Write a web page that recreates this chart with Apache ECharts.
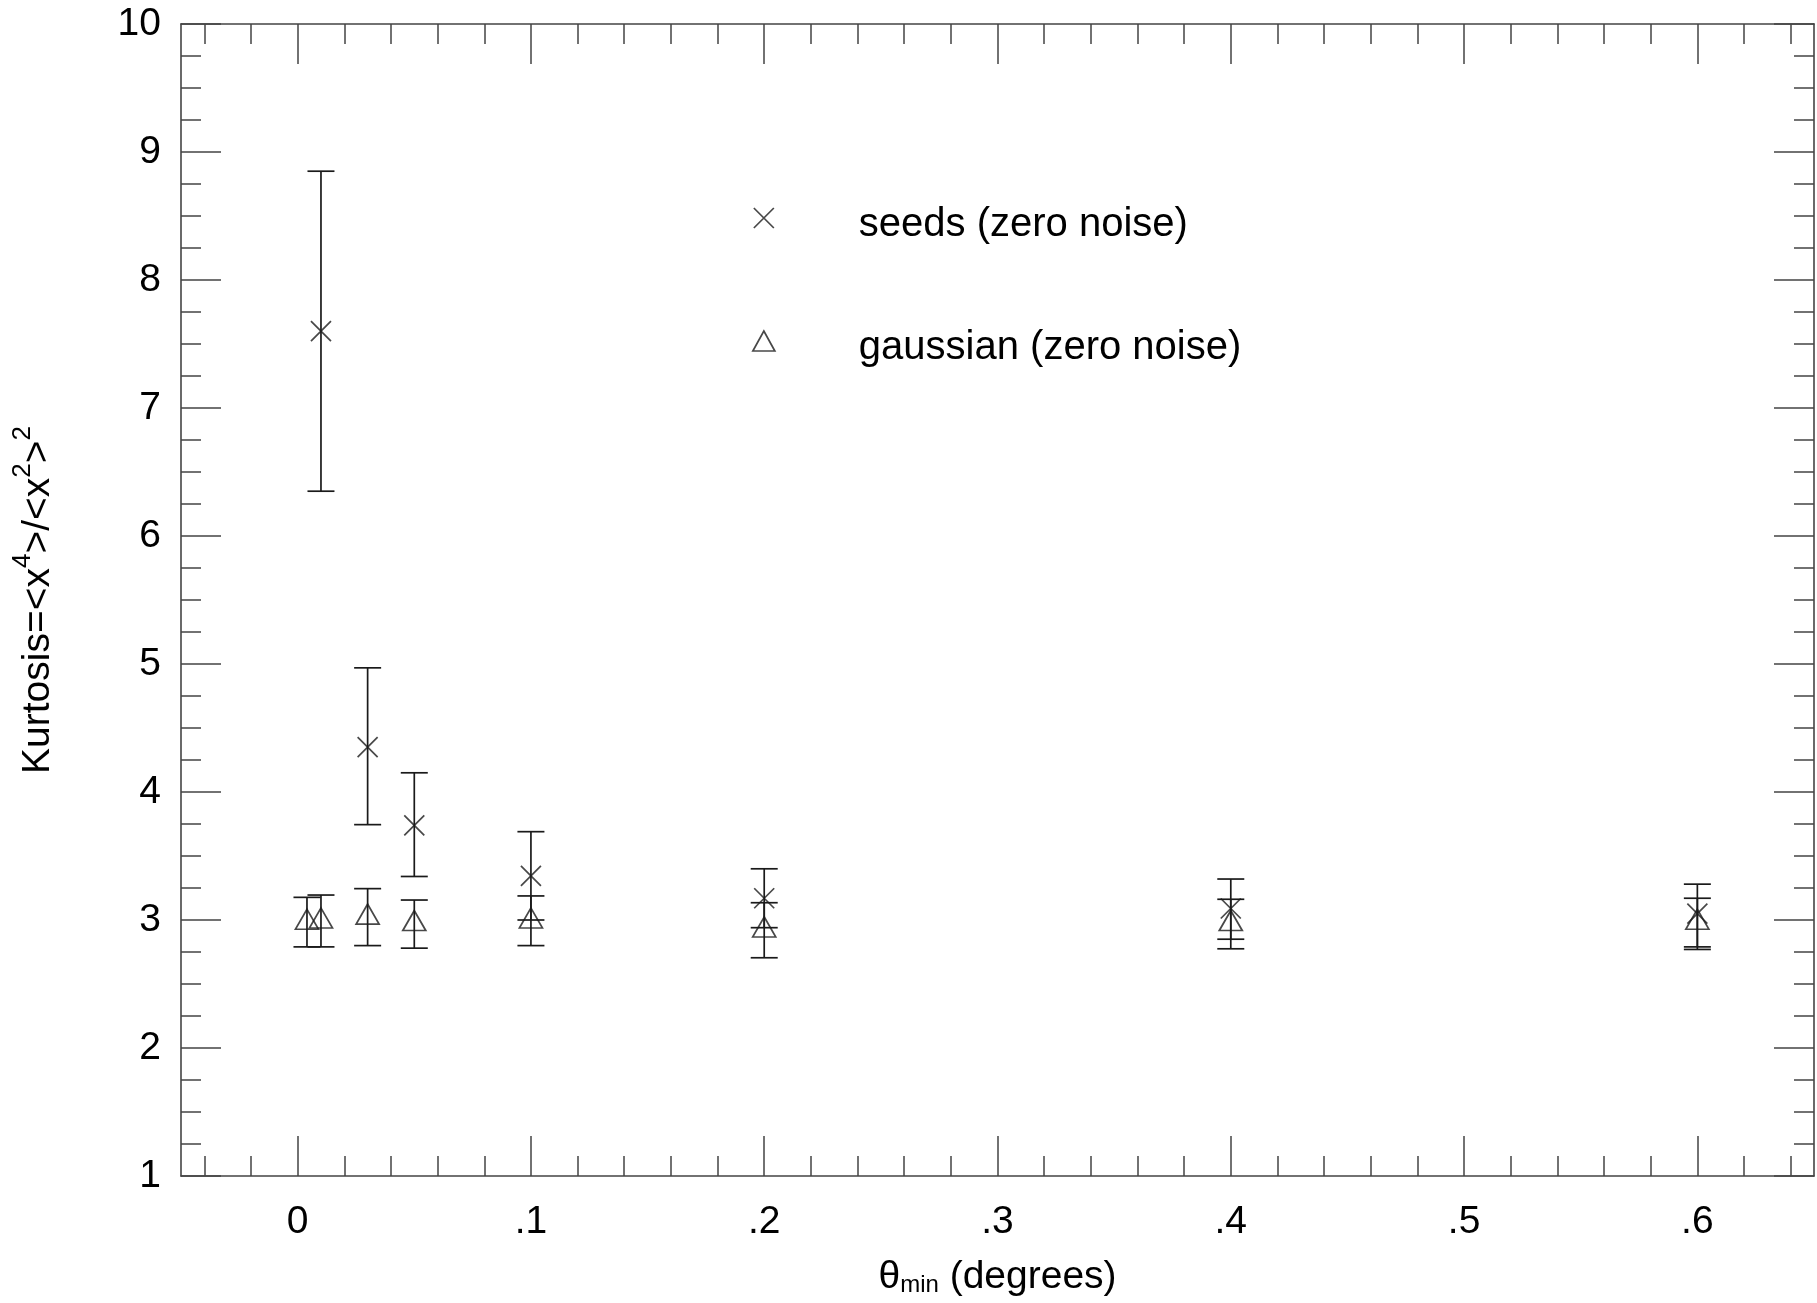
<!DOCTYPE html>
<html>
<head>
<meta charset="utf-8">
<script src="https://cdn.jsdelivr.net/npm/echarts@6/dist/echarts.min.js"></script>
<style>
  html, body { margin: 0; padding: 0; background: #fff; }
  #chart { width: 1817px; height: 1303px; }
</style>
</head>
<body>
<div id="chart"></div>
<script>
// seeds (zero noise): theta_min, kurtosis and the error bar ends
const seedsTheta = [0.01, 0.03, 0.05, 0.1, 0.2, 0.4, 0.6]
const seedsKurt = [7.6, 4.35, 3.74, 3.345, 3.17, 3.09, 3.05]
const seedsLow = [6.35, 3.745, 3.34, 3.0, 2.94, 2.85, 2.77]
const seedsHigh = [8.85, 4.97, 4.15, 3.69, 3.40, 3.32, 3.28]

// gaussian (zero noise)
const gaussTheta = [0.004, 0.01, 0.03, 0.05, 0.1, 0.2, 0.4, 0.6]
const gaussKurt = [2.98, 2.99, 3.02, 2.97, 2.99, 2.92, 2.97, 2.98]
const gaussLow = [2.79, 2.79, 2.80, 2.78, 2.80, 2.705, 2.775, 2.79]
const gaussHigh = [3.177, 3.195, 3.245, 3.156, 3.188, 3.135, 3.162, 3.17]

// x axis ticks
const xMajorTicks = [0, 0.1, 0.2, 0.3, 0.4, 0.5, 0.6]
const xTickLabels = ['0', '.1', '.2', '.3', '.4', '.5', '.6']
const xMinorTicks = [-0.04, -0.02, 0.02, 0.04, 0.06, 0.08, 0.12, 0.14, 0.16, 0.18,
  0.22, 0.24, 0.26, 0.28, 0.32, 0.34, 0.36, 0.38, 0.42, 0.44, 0.46, 0.48,
  0.52, 0.54, 0.56, 0.58, 0.62, 0.64]

const FONT = "'Liberation Sans', Arial, Helvetica, sans-serif"
const axisColor = '#444'
const markColor = '#1a1a1a'
const crossPath = 'path://M0,0L10,10M10,0L0,10'

const chart = echarts.init(document.getElementById('chart'))

const xAxisOf = (position, ticks, len, extra) => Object.assign({
  type: 'value',
  position: position,
  min: -0.05,
  max: 0.65,
  axisLine: { show: false, onZero: false },
  axisTick: {
    show: true,
    inside: true,
    length: len,
    customValues: ticks,
    lineStyle: { color: axisColor, width: 1.5 }
  },
  axisLabel: { show: false },
  splitLine: { show: false }
}, extra)

const frameLine = { show: true, onZero: false, lineStyle: { color: axisColor, width: 1.6 } }

const yAxisOf = (position, extra) => Object.assign({
  type: 'value',
  position: position,
  min: 1,
  max: 10,
  interval: 1,
  axisLine: frameLine,
  axisTick: { show: true, inside: true, length: 40, lineStyle: { color: axisColor, width: 1.5 } },
  minorTick: { show: true, splitNumber: 4, length: 20, lineStyle: { color: axisColor, width: 1.5 } },
  axisLabel: { show: false },
  splitLine: { show: false },
  minorSplitLine: { show: false }
}, extra)

// vertical bar with caps for each point
const renderErrorBar = (params, api) => {
  const x = api.value(0)
  const top = api.coord([x, api.value(2)])
  const bot = api.coord([x, api.value(1)])
  const hw = 13.5
  const style = { stroke: markColor, lineWidth: 1.7 }
  return {
    type: 'group',
    children: [
      { type: 'line', shape: { x1: top[0], y1: top[1], x2: bot[0], y2: bot[1] }, style },
      { type: 'line', shape: { x1: top[0] - hw, y1: top[1], x2: top[0] + hw, y2: top[1] }, style },
      { type: 'line', shape: { x1: bot[0] - hw, y1: bot[1], x2: bot[0] + hw, y2: bot[1] }, style }
    ]
  }
}

const option = {
  animation: false,
  backgroundColor: '#fff',
  textStyle: { fontFamily: FONT, color: '#000' },
  grid: { left: 181, right: 3, top: 24, bottom: 127, containLabel: false, outerBoundsMode: 'none' },
  legend: {
    orient: 'vertical',
    left: 747,
    top: 186,
    itemWidth: 22,
    itemHeight: 20,
    itemGap: 69,
    selectedMode: false,
    data: ['seeds (zero noise)', 'gaussian (zero noise)'],
    itemStyle: { color: 'transparent', borderColor: markColor, borderWidth: 1.7 },
    formatter: '{t|{name}}',
    textStyle: {
      rich: {
        t: { fontFamily: FONT, fontSize: 40, lineHeight: 40, color: '#000', padding: [14, 0, 0, 79] }
      }
    }
  },
  xAxis: [
    xAxisOf('bottom', xMajorTicks, 40, {
      axisLine: frameLine,
      axisLabel: {
        show: true,
        customValues: xMajorTicks,
        margin: 27,
        fontSize: 39,
        color: '#000',
        fontFamily: FONT,
        formatter: (v) => {
          const i = xMajorTicks.findIndex(t => Math.abs(t - v) < 1e-9)
          return i >= 0 ? xTickLabels[i] : ''
        }
      },
      name: '{m|θ}{sub|min}{m| (degrees)}',
      nameLocation: 'middle',
      nameGap: 82,
      nameTextStyle: {
        rich: {
          m: { fontFamily: FONT, fontSize: 39, lineHeight: 39, verticalAlign: 'top', color: '#000' },
          sub: { fontFamily: FONT, fontSize: 24, lineHeight: 24, verticalAlign: 'bottom', color: '#000', padding: [23, 0, 0, 0] }
        }
      }
    }),
    xAxisOf('bottom', xMinorTicks, 20),
    xAxisOf('top', xMajorTicks, 40, { axisLine: frameLine }),
    xAxisOf('top', xMinorTicks, 20)
  ],
  yAxis: [
    yAxisOf('left', {
      axisLabel: { show: true, margin: 20, fontSize: 39, color: '#000', fontFamily: FONT },
      name: '{m|Kurtosis=<x}{s|4}{m|>/<x}{s|2}{m|>}{s|2}',
      nameLocation: 'middle',
      nameGap: 115,
      nameRotate: 90,
      nameTextStyle: {
        rich: {
          m: { fontFamily: FONT, fontSize: 39, lineHeight: 56, color: '#000' },
          s: { fontFamily: FONT, fontSize: 26, lineHeight: 26, verticalAlign: 'top', color: '#000' }
        }
      }
    }),
    yAxisOf('right')
  ],
  series: [
    {
      name: 'seeds (zero noise)',
      type: 'scatter',
      xAxisIndex: 0,
      yAxisIndex: 0,
      symbol: crossPath,
      symbolSize: 20,
      itemStyle: { color: 'transparent', borderColor: markColor, borderWidth: 1.7 },
      data: seedsTheta.map((x, i) => [x, seedsKurt[i]]),
      z: 3
    },
    {
      name: 'gaussian (zero noise)',
      type: 'scatter',
      xAxisIndex: 0,
      yAxisIndex: 0,
      symbol: 'triangle',
      symbolSize: [23, 20],
      symbolOffset: [0, -3.3],
      itemStyle: { color: 'transparent', borderColor: markColor, borderWidth: 1.7 },
      data: gaussTheta.map((x, i) => [x, gaussKurt[i]]),
      z: 3
    },
    {
      name: 'seeds error',
      type: 'custom',
      xAxisIndex: 0,
      yAxisIndex: 0,
      renderItem: renderErrorBar,
      encode: { x: 0, y: [1, 2] },
      data: seedsTheta.map((x, i) => [x, seedsLow[i], seedsHigh[i]]),
      silent: true
    },
    {
      name: 'gaussian error',
      type: 'custom',
      xAxisIndex: 0,
      yAxisIndex: 0,
      renderItem: renderErrorBar,
      encode: { x: 0, y: [1, 2] },
      data: gaussTheta.map((x, i) => [x, gaussLow[i], gaussHigh[i]]),
      silent: true
    }
  ]
}

chart.setOption(option)
window.addEventListener('resize', () => chart.resize())
</script>
</body>
</html>
